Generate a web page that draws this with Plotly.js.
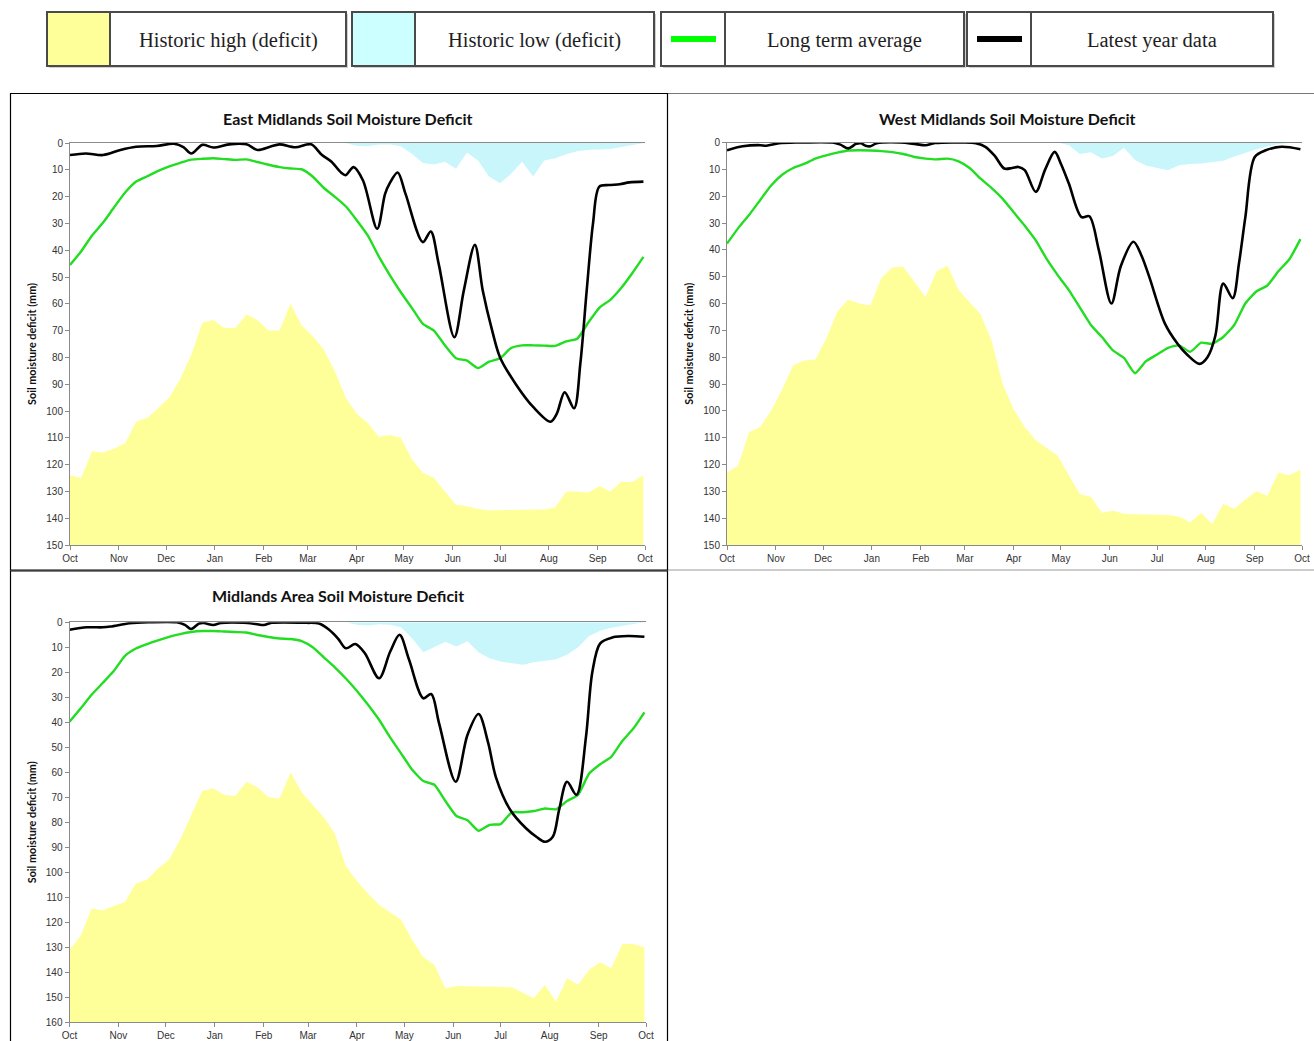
<!DOCTYPE html>
<html>
<head>
<meta charset="utf-8">
<script src="https://cdn.plot.ly/plotly-3.0.1.min.js"></script>
<style>
html,body{margin:0;padding:0;background:#fff;}
#chart{width:1314px;height:1041px;}
</style>
</head>
<body>
<div id="chart"></div>
<script>
// ---------- DATA ----------
const monthLabels = ['Oct','Nov','Dec','Jan','Feb','Mar','Apr','May','Jun','Jul','Aug','Sep','Oct'];
const monthStartDays = [0,31,61,92,123,151,182,212,243,273,304,335,365];

// weekly points (days after 1 Oct)
const weekDays = [0,7,14,21,28,35,42,49,56,63,70,77,84,91,98,105,112,119,126,133,140,147,154,161,168,175,182,189,196,203,210,217,224,231,238,245,252,259,266,273,280,287,294,301,308,315,322,329,336,343,350,357,364];

// East Midlands
const eastHigh = [124,125,115,115.5,114,112,104,102.5,99,95,88,79,67,66,69,69,64,66,70,70,60,68,72,77,85,95,101,104.5,109.6,109,110,118,123,125,130,135,135.5,136.6,137,137,137,137,137,136.8,136,130,130,130.5,128,130,126.4,126.5,124];
const eastLow = [0,0,0,0,0,0,0,0,0,0,0,0,0,0,0,0,0,0,0,0,0,0,0,0,0,0,1,1.2,0.6,0.6,1.2,4,7.5,8,7,9.6,3.5,6.5,12.5,15,11.5,7,12.5,6.5,5.7,4.2,3.1,2.5,2.4,2.2,1.5,0.8,0];
const eastAvg = [45.5,40.5,34.5,29.7,24,18.5,14.4,12.4,10.4,8.7,7.4,6.2,5.9,5.7,6,6.3,6.1,7.1,8.1,9,9.5,9.8,12.5,16.7,20,23.6,28.8,34.5,42.3,49.3,55.7,61.5,67.5,70,75.5,80.3,81.2,84,81.6,80.3,76.5,75.5,75.5,75.6,75.7,74,73,67,61.5,58.5,54,48.5,42.5];
const eastLatestDays = [0,10,21,32,42,55,66,72,77,84,91,101,112,119,127,133,143,153,160,166,172,175,180,186,195,200,203,208,213,224,229,234,244,250,257,262,268,273,283,294,305,309,314,320,324,328,332,336,342,349,355,364];
const eastLatest = [4.5,3.9,4.5,2.6,1.4,1.1,0.3,1.5,3.9,0.7,1.7,0.5,0.5,2.6,1.4,0.5,1.6,0.5,4.5,7,11,12,9,14,32,19,15,11,19,37,33,45,72.5,55,38,55,70,80,90,98.5,104,101,93,99,82,55,30,16.3,15.7,15.4,14.7,14.4];

// West Midlands
const westHigh = [123,120.5,108,106,100,92,83,81.2,81,73,63,58.5,60,60.7,50.5,46.5,46.3,52,57.6,48,45.8,55,59.5,64,74,90,99.5,106,111,114,116.7,124,131,132,138,137.2,138.4,138.5,138.6,138.7,138.8,139.4,141.6,138,142.2,134.7,136.5,133,130,131.6,123,124,122];
const westLow = [0,0,0,0,0,0,0,0,0,0,0,0,0,0,0,0,0,0,0,0,0,0,0,0,0,0,0,0,0,0,0,1,4.3,3.6,6,5,2,6.5,8.6,9.5,10.3,8.5,8,7.8,7.4,6.8,5.2,3.8,2.5,1.5,0.6,0.2,0];
const westAvg = [37.7,32,27,21.5,16,12,9.5,8,6,4.8,3.8,3,2.9,3,3.2,3.6,4.3,5.4,6,6.3,6,7,9.5,13.5,17,21,26,31,36.5,43.5,49.5,55,61.5,68,72.5,77.5,80.3,86,81.5,79,76.5,75.6,78,74.6,75,72.5,68,60,55.5,53.3,48,43.5,36];
const westLatestDays = [0,10,21,25,33,45,67,72,77,82,85,88,91,95,110,120,126,132,150,158,164,170,176,181,185,189,196,202,208,212,217,225,230,236,244,250,258,263,268,278,286,292,300,305,310,315,321,325,329,335,342,352,364];
const westLatest = [2.9,1.4,1,1.2,0.3,0,0,0.8,2.2,0.5,0.3,1.2,1.4,0.3,0,0.6,1,0.2,0,0.3,1.6,5,9.7,9.5,9.1,10.3,18.4,10,3.5,8,15.3,27.8,27.5,40,60,46,37,42,50,67.5,75,79,82.5,80,72,52.6,58,45,28,5.4,2.9,1.6,2.5];

// Midlands Area
const midHigh = [131,125.5,114.5,115.3,113.5,112,104.5,103,98.5,95,87,77,67.5,66.4,69,69.5,63.8,66,70,70.5,60,68,73,78,84.5,97.5,103.5,108.5,113,116,119,127,134,137,146.4,145.5,145.5,145.6,145.7,145.8,146,148.3,150.4,145,151.8,142.4,145,139,136,138.4,128.7,128.7,130];
const midLow = [0,0,0,0,0,0,0,0,0,0,0,0,0,0,0,0,0,0,0,0,0,0,0,0,0,0,1,1.3,0.8,1,2,6.5,12,10,7.8,9.7,7.6,12,14.4,15.7,16.5,17,16,15.3,14.8,13,10,5.5,3.4,2.2,1.5,0.7,0];
const midAvg = [39.8,34.5,29,24.3,19.5,13.5,10.5,8.7,7.2,5.8,4.7,3.9,3.5,3.5,3.7,3.9,4.1,5.1,5.9,6.5,6.7,7.5,10,14,18,22.5,27.5,33,39,46,52.5,59,63.5,65,71.5,77.5,79.2,83.4,81,80.7,76,76,75.5,74.5,74.8,71.5,69,60.5,56.8,53.8,47.5,42.5,36];
const midLatestDays = [0,11,21,26,38,50,68,73,77,82,85,91,96,110,118,123,128,150,158,164,170,175,181,187,196,203,209,215,224,229,234,244.5,252,259,265,270,279,289,296,301,306,310,315,321,327,331,336,344,354,364];
const midLatest = [3,2,2,1.7,0.4,0,0,1,2.7,0.5,0.3,1.1,0.3,0.2,0.7,1.1,0.2,0.2,0.5,2.8,6.5,10.4,8.7,12.4,22.4,11.8,5,15,30.4,28.7,40.4,63.8,45,36.7,48,62,75,82.4,86,87.8,85.8,75,63.8,69,45.8,20,8.4,6,5.5,5.8];

const chartTitles = ['East Midlands Soil Moisture Deficit','West Midlands Soil Moisture Deficit','Midlands Area Soil Moisture Deficit'];
const seriesNames = ['Historic high (deficit)','Historic low (deficit)','Long term average','Latest year data'];
const yAxisTitle = 'Soil moisture deficit (mm)';

// ---------- STYLE ----------
const W = 1314, H = 1041;
const px = x => x / W;
const py = y => 1 - y / H;
const C_HIGH = '#FFFF99', C_LOW = '#C8F6FB', C_AVG = '#22DD22', C_LATEST = '#000000';
const AXIS_C = '#8a8a8a';
const tickFont = {family: 'Liberation Sans, Arial, sans-serif', size: 10, color: '#333'};

const panels = [
  {xa:'x',  ya:'y',  high:eastHigh, low:eastLow, avg:eastAvg, lx:eastLatestDays, ly:eastLatest, ymax:150,
   xd:[px(70), px(645)], yd:[py(545), py(143)], title:chartTitles[0], tx:347, ty:118},
  {xa:'x2', ya:'y2', high:westHigh, low:westLow, avg:westAvg, lx:westLatestDays, ly:westLatest, ymax:150,
   xd:[px(727), px(1302)], yd:[py(545), py(142.5)], title:chartTitles[1], tx:1007, ty:119},
  {xa:'x3', ya:'y3', high:midHigh, low:midLow, avg:midAvg, lx:midLatestDays, ly:midLatest, ymax:160,
   xd:[px(69.5), px(646)], yd:[py(1022.3), py(622.3)], title:chartTitles[2], tx:338, ty:595}
];

const traces = [];
const layout = {
  width: W, height: H,
  margin: {l:0, r:0, t:0, b:0},
  paper_bgcolor: '#fff', plot_bgcolor: 'rgba(0,0,0,0)',
  showlegend: false,
  shapes: [], annotations: []
};

panels.forEach((p, i) => {
  const n = weekDays.length;
  traces.push({
    type:'scatter', mode:'lines', name:seriesNames[0], xaxis:p.xa, yaxis:p.ya,
    x: weekDays.concat([weekDays[n-1], weekDays[0]]),
    y: p.high.concat([p.ymax, p.ymax]),
    fill:'toself', fillcolor:C_HIGH, line:{width:0, color:C_HIGH}, hoverinfo:'skip'
  });
  traces.push({
    type:'scatter', mode:'lines', name:seriesNames[1], xaxis:p.xa, yaxis:p.ya,
    x: weekDays, y: p.low,
    fill:'tozeroy', fillcolor:C_LOW, line:{width:0, color:C_LOW}, hoverinfo:'skip'
  });
  traces.push({
    type:'scatter', mode:'lines', name:seriesNames[2], xaxis:p.xa, yaxis:p.ya,
    x: weekDays, y: p.avg,
    line:{width:2.4, color:C_AVG, shape:'spline', smoothing:0.5}
  });
  traces.push({
    type:'scatter', mode:'lines', name:seriesNames[3], xaxis:p.xa, yaxis:p.ya,
    x: p.lx, y: p.ly,
    line:{width:2.6, color:C_LATEST, shape:'spline', smoothing:0.9}
  });

  const sfx = i === 0 ? '' : String(i+1);
  layout['xaxis'+sfx] = {
    domain: p.xd, anchor: p.ya, range:[0,365],
    tickmode:'array', tickvals: monthStartDays, ticktext: monthLabels,
    ticks:'outside', ticklen:4, tickcolor:AXIS_C, tickwidth:1,
    showline:true, linecolor:AXIS_C, linewidth:1, mirror:true,
    showgrid:false, zeroline:false, tickfont:tickFont, fixedrange:true
  };
  layout['yaxis'+sfx] = {
    domain: p.yd, anchor: p.xa, range:[p.ymax, 0],
    tick0:0, dtick:10,
    ticks:'outside', ticklen:4, tickcolor:AXIS_C, tickwidth:1,
    showline:true, linecolor:AXIS_C, linewidth:1,
    showgrid:false, zeroline:false, tickfont:tickFont, fixedrange:true,
    title:{text:'<b>'+yAxisTitle+'</b>', font:{family:'Lato, sans-serif', size:10.8, color:'#111'}, standoff:7}
  };
  layout.annotations.push({
    xref:'paper', yref:'paper', x:px(p.tx), y:py(p.ty), xanchor:'center', yanchor:'middle',
    text:'<b>'+p.title+'</b>', showarrow:false,
    font:{family:'Lato, sans-serif', size:16, color:'#111'}
  });
});

// panel frames
const frame = (x0,y0,x1,y1,color,w) => ({type:'rect', xref:'paper', yref:'paper',
  x0:px(x0), y0:py(y0), x1:px(x1), y1:py(y1), line:{color:color, width:w}, fillcolor:'rgba(0,0,0,0)', layer:'above'});
const hline = (x0,x1,y,color,w) => ({type:'line', xref:'paper', yref:'paper',
  x0:px(x0), x1:px(x1), y0:py(y), y1:py(y), line:{color:color, width:w}});
layout.shapes.push(hline(668, 1314, 93.5, '#777', 1));
layout.shapes.push(hline(668, 1314, 570, '#999', 1));
layout.shapes.push(frame(10.5, 93.5, 667.5, 570, '#000', 1.2));
layout.shapes.push(frame(10.5, 571, 667.5, 1045, '#000', 1.2));

// custom legend (table of boxes)
const legendBoxes = [
  {x0:47, x1:346, div:110, kind:'fill', color:C_HIGH},
  {x0:352, x1:654, div:415, kind:'fill', color:'#CCFFFF'},
  {x0:661, x1:964, div:725, kind:'line', color:'#00FF00'},
  {x0:967, x1:1273, div:1031, kind:'line', color:'#000000'}
];
const LY0 = 12, LY1 = 66;
legendBoxes.forEach((b, i) => {
  layout.shapes.push({type:'rect', xref:'paper', yref:'paper', x0:px(b.x0+2), x1:px(b.x1+2), y0:py(LY0+2), y1:py(LY1+2),
    line:{width:0}, fillcolor:'#cfcfcf'});
  layout.shapes.push({type:'rect', xref:'paper', yref:'paper', x0:px(b.x0), x1:px(b.x1), y0:py(LY0), y1:py(LY1),
    line:{width:0}, fillcolor:'#fff'});
  if (b.kind === 'fill') {
    layout.shapes.push({type:'rect', xref:'paper', yref:'paper', x0:px(b.x0), x1:px(b.div), y0:py(LY0), y1:py(LY1),
      line:{width:0}, fillcolor:b.color});
  } else {
    layout.shapes.push({type:'line', xref:'paper', yref:'paper', x0:px(b.x0+10), x1:px(b.div-9), y0:py(39), y1:py(39),
      line:{width:6, color:b.color}});
  }
  layout.shapes.push({type:'rect', xref:'paper', yref:'paper', x0:px(b.x0), x1:px(b.x1), y0:py(LY0), y1:py(LY1),
    line:{width:2, color:'#4a4a4a'}, fillcolor:'rgba(0,0,0,0)'});
  layout.shapes.push({type:'line', xref:'paper', yref:'paper', x0:px(b.div), x1:px(b.div), y0:py(LY0), y1:py(LY1),
    line:{width:2, color:'#4a4a4a'}});
  layout.annotations.push({xref:'paper', yref:'paper', x:px((b.div+b.x1)/2), y:py(40), xanchor:'center', yanchor:'middle',
    text:seriesNames[i], showarrow:false, font:{family:'Liberation Serif, Times New Roman, serif', size:20.5, color:'#1e1e1e'}});
});

Plotly.newPlot('chart', traces, layout, {staticPlot:true, displayModeBar:false});
</script>
</body>
</html>
